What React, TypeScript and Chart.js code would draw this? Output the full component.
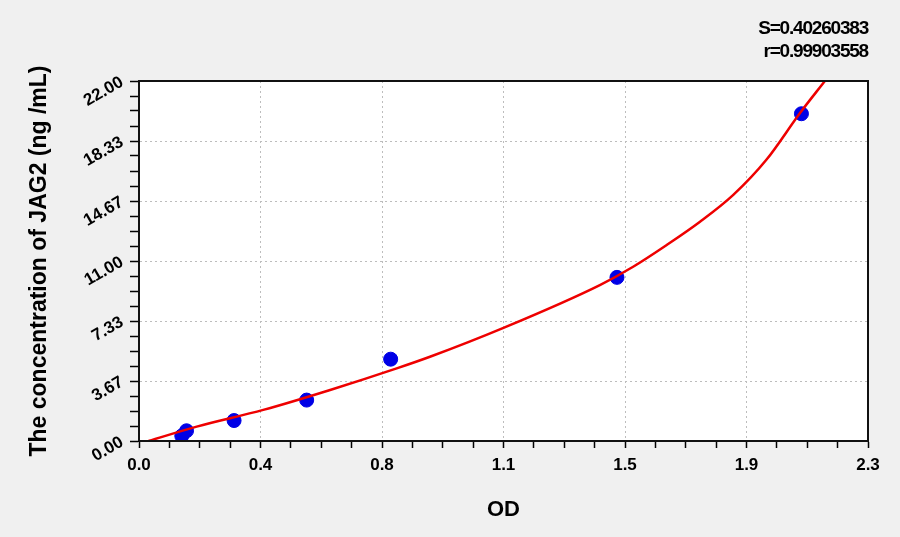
import { useEffect, useRef } from "react";
import Chart from "chart.js/auto";

// standards
const odValues = [0.135, 0.15, 0.3, 0.529, 0.794, 1.508, 2.09];
const concValues = [0.312, 0.625, 1.25, 2.5, 5, 10, 20];

// fitted curve
const curveOd = [0.03, 0.182, 0.392, 0.603, 0.813, 0.918, 1.148, 1.454, 1.559, 1.665, 1.77, 1.875, 1.98, 2.085, 2.164];
const curveConc = [0, 0.88, 1.9, 3.12, 4.44, 5.15, 6.9, 9.53, 10.65, 11.98, 13.4, 15.04, 17.2, 20.03, 22];

const xTickLabels = ["0.0", "0.4", "0.8", "1.1", "1.5", "1.9", "2.3"];
const yTickLabels = ["0.00", "3.67", "7.33", "11.00", "14.67", "18.33", "22.00"];
const xMax = 2.3;
const yMax = 22;
const minorPerMajor = 4;

const fitStats = ["S=0.40260383", "r=0.99903558"];

const FONT = "'Liberation Sans', Arial, sans-serif";

export default function App() {
  const chartRef = useRef<HTMLCanvasElement>(null);
  const chartInstance = useRef<Chart | null>(null);

  useEffect(() => {
    document.body.style.margin = "0";
    if (!chartRef.current) return;
    if (chartInstance.current) chartInstance.current.destroy();
    const ctx = chartRef.current.getContext("2d");
    if (!ctx) return;

    const buildTicks = (max: number, labels: string[]) => (scale: any) => {
      const n = (labels.length - 1) * minorPerMajor;
      scale.ticks = Array.from({ length: n + 1 }, (_, i) => ({ value: (i * max) / n }));
    };
    const gridColor = (count: number) => (c: any) =>
      c.index % minorPerMajor === 0 && c.index > 0 && c.index < count ? "#bdbdbd" : "rgba(0,0,0,0)";

    const frame = {
      id: "frame",
      beforeDraw(chart: any) {
        const { ctx: g, chartArea: a, width, height } = chart;
        g.save();
        g.fillStyle = "#f0f0f0";
        g.fillRect(0, 0, width, height);
        g.fillStyle = "#ffffff";
        g.fillRect(a.left, a.top, a.right - a.left, a.bottom - a.top);
        g.restore();
      },
      afterDraw(chart: any) {
        const { ctx: g, chartArea: a } = chart;
        g.save();
        g.strokeStyle = "#111";
        g.lineWidth = 2;
        g.setLineDash([]);
        g.beginPath();
        g.moveTo(a.left, a.bottom);
        g.lineTo(a.left, a.top);
        g.lineTo(a.right, a.top);
        g.lineTo(a.right, a.bottom);
        g.lineTo(a.left, a.bottom);
        g.stroke();
        g.restore();
      },
    };

    const nX = (xTickLabels.length - 1) * minorPerMajor;
    const nY = (yTickLabels.length - 1) * minorPerMajor;

    chartInstance.current = new Chart(ctx, {
      type: "scatter",
      data: {
        datasets: [
          {
            label: "Fit",
            data: curveOd.map((x, i) => ({ x, y: curveConc[i] })),
            showLine: true,
            borderColor: "#ee0000",
            borderWidth: 2.5,
            pointRadius: 0,
            cubicInterpolationMode: "monotone",
            order: 0,
          },
          {
            label: "Standards",
            data: odValues.map((x, i) => ({ x, y: concValues[i] })),
            backgroundColor: "#0000e6",
            borderColor: "#0000e6",
            pointRadius: 7,
            order: 1,
          },
        ],
      },
      options: {
        responsive: true,
        maintainAspectRatio: false,
        animation: false,
        layout: { padding: { top: 81, right: 32, left: 0, bottom: 0 } },
        plugins: {
          legend: { display: false },
          tooltip: { enabled: false },
        },
        scales: {
          x: {
            type: "linear",
            min: 0,
            max: xMax,
            afterBuildTicks: buildTicks(xMax, xTickLabels),
            afterFit: (scale: any) => {
              scale.height = 96;
            },
            ticks: {
              autoSkip: false,
              maxRotation: 0,
              minRotation: 0,
              padding: 7,
              color: "#000",
              font: { family: FONT, size: 17, weight: "bold" },
              callback: (_v: any, i: number) =>
                i % minorPerMajor === 0 ? xTickLabels[i / minorPerMajor] : "",
            },
            grid: {
              color: gridColor(nX),
              tickColor: "#000",
              tickBorderDash: [],
              tickLength: 7,
              tickWidth: 1.5,
            },
            border: { color: "#000", width: 2, dash: [2, 3] },
            title: {
              display: true,
              text: "OD",
              color: "#000",
              font: { family: FONT, size: 22, weight: "bold" },
              padding: { top: 0, bottom: 14 },
            },
          },
          y: {
            type: "linear",
            min: 0,
            max: yMax,
            afterBuildTicks: buildTicks(yMax, yTickLabels),
            afterFit: (scale: any) => {
              scale.width = 139;
            },
            ticks: {
              autoSkip: false,
              minRotation: 30,
              maxRotation: 30,
              padding: 8,
              color: "#000",
              font: { family: FONT, size: 17, weight: "bold" },
              callback: (_v: any, i: number) =>
                i % minorPerMajor === 0 ? yTickLabels[i / minorPerMajor] : "",
            },
            grid: {
              color: gridColor(nY),
              tickColor: "#000",
              tickBorderDash: [],
              tickLength: 9,
              tickWidth: 1.5,
            },
            border: { color: "#000", width: 2, dash: [2, 3] },
            title: {
              display: true,
              text: "The concentration of JAG2 (ng /mL)",
              color: "#000",
              font: { family: FONT, size: 23, weight: "bold" },
              padding: { top: 26, bottom: 0 },
            },
          },
        },
      },
      plugins: [frame],
    });

    return () => {
      if (chartInstance.current) {
        chartInstance.current.destroy();
        chartInstance.current = null;
      }
    };
  }, []);

  return (
    <div style={{ position: "relative", width: 900, height: 537, background: "#f0f0f0" }}>
      <canvas ref={chartRef}></canvas>
      <div
        style={{
          position: "absolute",
          top: 16,
          right: 32,
          textAlign: "right",
          fontFamily: FONT,
          fontWeight: "bold",
          fontSize: 19,
          lineHeight: "23px",
          letterSpacing: "-1.2px",
          color: "#000",
        }}
      >
        {fitStats.map((s) => (
          <div key={s}>{s}</div>
        ))}
      </div>
    </div>
  );
}
